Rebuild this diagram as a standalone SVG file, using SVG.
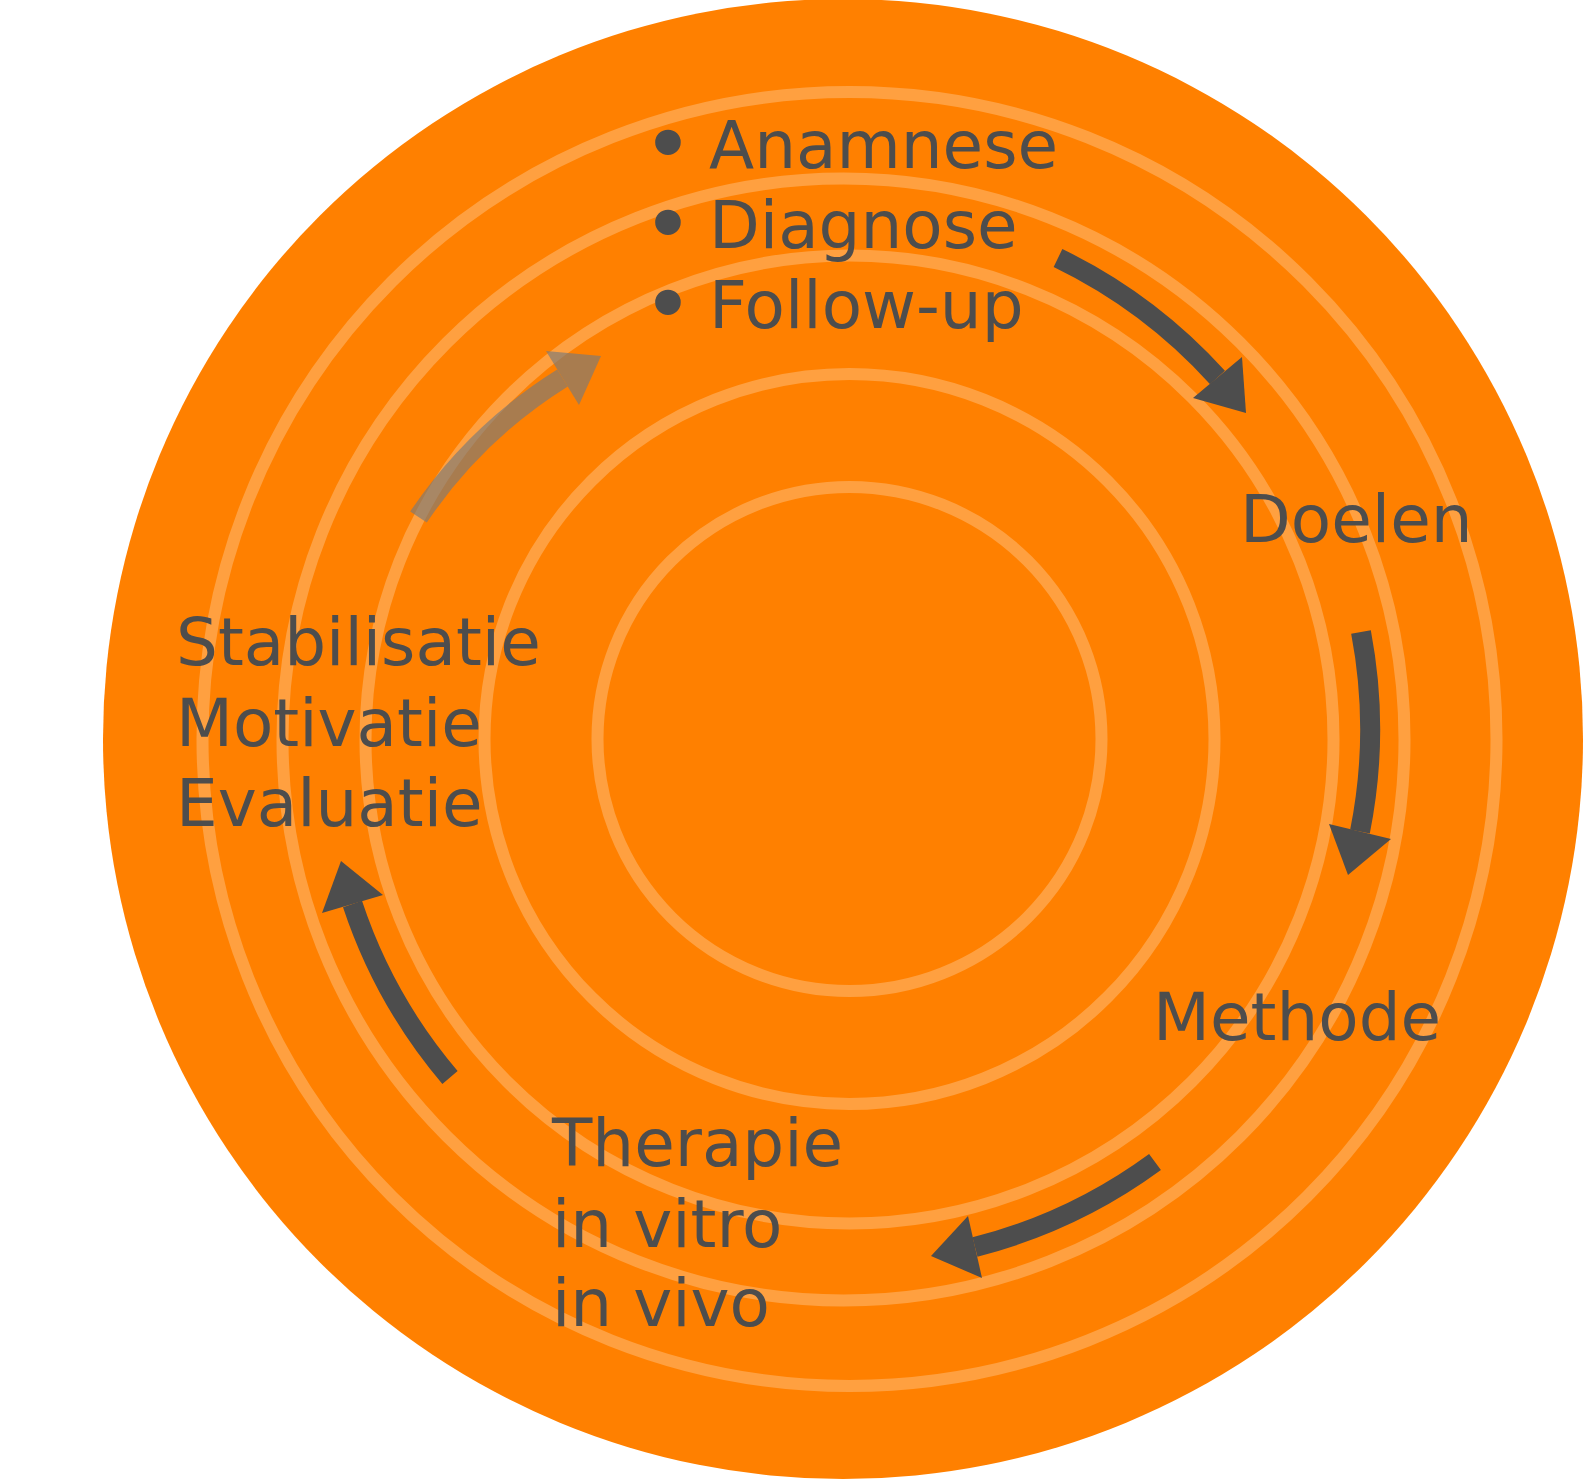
<svg xmlns="http://www.w3.org/2000/svg" width="1583" height="1479" viewBox="0 0 1583 1479">
  <style>
    .ring { fill: none; stroke: #ffa040; stroke-width: 12; }
    .lbl { font-family: "DejaVu Sans", Verdana, sans-serif; font-size: 66px; fill: #4d4d4d; }
    .bul { font-size: 88px; }
    .shaft { fill: none; stroke: #4d4d4d; stroke-width: 20; }
    .head { fill: #4d4d4d; }
    .ghost .shaft { stroke: #7a7a7a; }
    .ghost .head { fill: #7a7a7a; }
  </style>
  <rect width="1583" height="1479" fill="#ffffff"/>
  <g id="background">
    <circle cx="843" cy="739" r="740" fill="#ff8000"/>
    <circle class="ring" cx="849.5" cy="739" r="647"/>
    <circle class="ring" cx="843.5" cy="739.5" r="561"/>
    <circle class="ring" cx="849.5" cy="739.5" r="484"/>
    <circle class="ring" cx="849.5" cy="739" r="365"/>
    <circle class="ring" cx="849.5" cy="739" r="252"/>
  </g>
  <g id="connectors">
    <g id="arrow-anamnese-doelen">
      <path class="shaft" d="M1058,258 A522,522 0 0 1 1217.5,377.5"/>
      <polygon class="head" points="1193,398 1242,357 1246,413"/>
    </g>
    <g id="arrow-doelen-methode">
      <path class="shaft" d="M1361,632 A522,522 0 0 1 1360,831.5"/>
      <polygon class="head" points="1329,824 1391,839 1348,875"/>
    </g>
    <g id="arrow-methode-therapie">
      <path class="shaft" d="M1155,1162 A522,522 0 0 1 975,1247"/>
      <polygon class="head" points="968,1216 982,1278 931,1256"/>
    </g>
    <g id="arrow-therapie-stabilisatie">
      <path class="shaft" d="M450,1077.5 A522,522 0 0 1 352.5,904"/>
      <polygon class="head" points="322,913 383,895 341,861"/>
    </g>
    <g id="arrow-stabilisatie-anamnese" class="ghost" opacity="0.65">
      <path class="shaft" d="M418.5,517 A480,480 0 0 1 562.5,378"/>
      <polygon class="head" points="546,351 579,405 601,356"/>
    </g>
  </g>
  <g id="node-anamnese">
    <text class="lbl"><tspan class="bul" x="642" y="175">•</tspan><tspan x="709" y="168">Anamnese</tspan></text>
    <text class="lbl"><tspan class="bul" x="642" y="255">•</tspan><tspan x="709" y="248">Diagnose</tspan></text>
    <text class="lbl"><tspan class="bul" x="642" y="335">•</tspan><tspan x="709" y="328">Follow-up</tspan></text>
  </g>
  <g id="node-doelen">
    <text class="lbl" x="1240" y="542">Doelen</text>
  </g>
  <g id="node-methode">
    <text class="lbl" x="1153" y="1040">Methode</text>
  </g>
  <g id="node-therapie">
    <text class="lbl"><tspan x="552" y="1166">Therapie</tspan><tspan x="552" y="1247">in vitro</tspan><tspan x="552" y="1326">in vivo</tspan></text>
  </g>
  <g id="node-stabilisatie">
    <text class="lbl"><tspan x="176" y="665">Stabilisatie</tspan><tspan x="176" y="746">Motivatie</tspan><tspan x="176" y="826">Evaluatie</tspan></text>
  </g>
</svg>
